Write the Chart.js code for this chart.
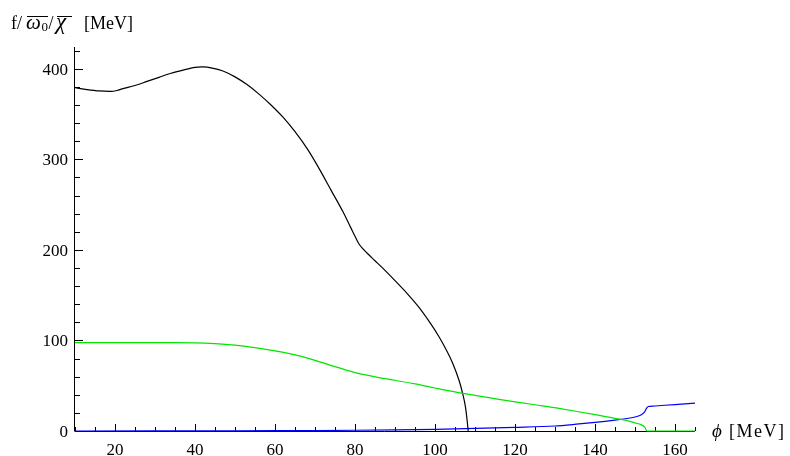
<!DOCTYPE html>
<html lang="en">
<head>
  <meta charset="UTF-8">
  <title>f vs phi</title>
  <script src="https://cdn.jsdelivr.net/npm/chart.js"></script>
  <style>
    body{margin:0;padding:0;background:#fff;}
    #wrap{position:relative;width:790px;height:456px;}
  </style>
</head>
<body>
<div id="wrap"><canvas id="c" width="790" height="456"></canvas></div>
<script>
/* ===== Data ===== */
const phiBlack=[10,13,16,19,20.5,22,25,28,31,34,37,40,42,44,47,50,53,56,59,62,65,68,71,74,77,79,80,81,82,83,85,87,90,93,96,99,101,103,104.5,106,107,107.6,108,108.3];
const fBlack  =[379,377,375.5,375,376,378,381.5,386,390.5,395,398.5,401.5,402,401,397.5,391,382.5,372,360,346.5,330.5,312,290,266,242,224,215,206.5,201,196.5,188,179.5,166,152,136.5,118,104,88,74,56,40,27,13,0];

const phiGreen=[10,20,30,40,45,50,55,60,65,70,75,80,82,86,90,95,100,107,116,125,131,140,147.5,150,151.5,152.5,153,165];
const fGreen  =[97.5,97.6,97.6,97.3,96.5,94.8,92,88.5,84,78,71,64.5,62.5,59,56,52,47.5,41.6,35,29,25,18,12,9,7,4,0,0];

const phiBlue=[10,50,70,90,100,110,120,130,136,140,145,148,150,151.5,152.3,152.8,153.3,155,160,165];
const fBlue  =[0,0.2,0.5,1.2,1.8,2.8,4,5.5,7.8,9.5,12,13.8,15.5,17.7,20.5,24.5,27,27.6,29.2,30.8];

const xTicks=[20,40,60,80,100,120,140,160];
const yTicks=[0,100,200,300,400];
const xMinorStep=5, yMinorStep=20;

/* ===== Helpers ===== */
const pts=(xs,ys)=>xs.map((x,i)=>({x:x,y:ys[i]}));
const SERIF='"Liberation Serif","Times New Roman",serif';

/* ===== Axes drawn by hand (Mathematica style, inside ticks) ===== */
const axesPlugin={
  id:'mmaAxes',
  beforeDatasetsDraw(chart){
    const {ctx,scales:{x,y}}=chart;
    const x0=x.getPixelForValue(x.min), x1=x.getPixelForValue(x.max);
    const y0=y.getPixelForValue(0), y1=y.getPixelForValue(y.max);
    ctx.save();
    ctx.strokeStyle='#000';ctx.lineWidth=1;
    ctx.beginPath();
    ctx.moveTo(x0-0.5,Math.round(y0)+0.5);ctx.lineTo(x1,Math.round(y0)+0.5);
    ctx.moveTo(Math.round(x0)-0.5,y0);ctx.lineTo(Math.round(x0)-0.5,y1);
    // x ticks
    for(let v=Math.ceil(x.min/xMinorStep)*xMinorStep;v<=x.max;v+=xMinorStep){
      const px=Math.round(x.getPixelForValue(v))+0.5;
      const len=xTicks.includes(v)?7:4;
      ctx.moveTo(px,y0);ctx.lineTo(px,y0-len);
    }
    // y ticks
    for(let v=0;v<=y.max;v+=yMinorStep){
      const py=Math.round(y.getPixelForValue(v))+0.5;
      const len=yTicks.includes(v)?8:5;
      ctx.moveTo(x0,py);ctx.lineTo(x0+len,py);
    }
    ctx.stroke();
    ctx.fillStyle='#000';
    ctx.font='17px '+SERIF;
    ctx.textAlign='center';ctx.textBaseline='alphabetic';
    xTicks.forEach(v=>ctx.fillText(String(v),x.getPixelForValue(v),455));
    ctx.textAlign='right';
    yTicks.forEach(v=>ctx.fillText(String(v),68,y.getPixelForValue(v)+6));
    ctx.restore();
  },
  afterDraw(chart){
    const {ctx}=chart;
    ctx.save();
    ctx.fillStyle='#000';ctx.strokeStyle='#000';ctx.lineWidth=1;
    ctx.textAlign='left';ctx.textBaseline='alphabetic';
    // y-axis title: f / overline(omega_0) / overline(chi) [MeV]
    const by=29;
    ctx.font='18px '+SERIF;
    ctx.fillText('f/',11,by);
    ctx.font='italic 21px '+SERIF;
    ctx.fillText('ω',26,by);
    ctx.font='13px '+SERIF;
    ctx.fillText('0',41.5,by+2);
    ctx.font='18px '+SERIF;
    ctx.fillText('/',48.5,by);
    ctx.font='italic 23px '+SERIF;
    ctx.fillText('χ',56,by);
    ctx.font='18px '+SERIF;
    ctx.fillText('[MeV]',84,by);
    ctx.beginPath();
    ctx.moveTo(27,by-12.5);ctx.lineTo(48,by-12.5);
    ctx.moveTo(57,by-12.5);ctx.lineTo(72,by-12.5);
    ctx.stroke();
    // x-axis title
    ctx.font='italic 19px '+SERIF;
    ctx.fillText('ϕ',712,437);
    ctx.font='18px '+SERIF;
    ctx.letterSpacing='1.5px';
    ctx.fillText('[MeV]',729,437);
    ctx.restore();
  }
};

/* ===== Chart ===== */
const line=(data,color)=>({data:data,borderColor:color,borderWidth:1.2,pointRadius:0,
  fill:false,tension:0.3,clip:false});

new Chart(document.getElementById('c'),{
  type:'line',
  data:{datasets:[
    line(pts(phiGreen,fGreen),'#00e600'),
    line(pts(phiBlack,fBlack),'#000000'),
    line(pts(phiBlue,fBlue),'#0000ff')
  ]},
  options:{
    responsive:false,animation:false,
    layout:{padding:{left:75,right:95,top:47,bottom:25}},
    plugins:{legend:{display:false},tooltip:{enabled:false}},
    scales:{
      x:{type:'linear',min:10,max:165,display:false},
      y:{type:'linear',min:0,max:424,display:false}
    }
  },
  plugins:[axesPlugin]
});
</script>
</body>
</html>
